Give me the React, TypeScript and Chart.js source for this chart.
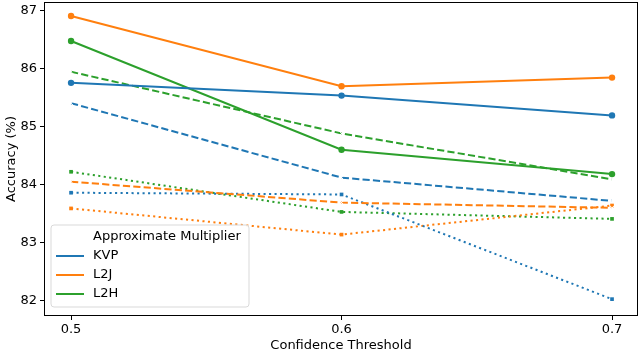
import React, { useEffect, useRef } from "react";
import { Chart, registerables } from "chart.js";

Chart.register(...registerables);

const thresholds = [0.5, 0.6, 0.7];
const yTicks = [82, 83, 84, 85, 86, 87];
const xTicks = [0.5, 0.6, 0.7];

const kvpSolid = [85.75, 85.53, 85.19];
const l2jSolid = [86.9, 85.69, 85.84];
const l2hSolid = [86.47, 84.6, 84.18];

const kvpDashed = [85.4, 84.12, 83.72];
const l2jDashed = [84.05, 83.69, 83.6];
const l2hDashed = [85.94, 84.88, 84.09];

const kvpDotted = [83.86, 83.83, 82.03];
const l2jDotted = [83.59, 83.14, 83.64];
const l2hDotted = [84.22, 83.53, 83.41];

const legendTitle = "Approximate Multiplier";
const legendNames = ["KVP", "L2J", "L2H"];
const colors = ["#1f77b4", "#ff7f0e", "#2ca02c"];

const FONT = "'DejaVu Sans', sans-serif";
const FS = 13;

function pts(vals: number[]) {
  return vals.map((v, i) => ({ x: thresholds[i], y: v }));
}

const DASHED = [7.2, 3.2];
const DOTTED = [2.1, 3.4];

function makeDataset(vals: number[], color: string, style: "solid" | "dashed" | "dotted") {
  return {
    data: pts(vals),
    borderColor: color,
    backgroundColor: color,
    borderWidth: 2,
    borderDash: style === "solid" ? [] : style === "dashed" ? DASHED : DOTTED,
    pointStyle: style === "solid" ? "circle" : style === "dashed" ? "crossRot" : "rect",
    pointRadius: style === "solid" ? 3.2 : style === "dashed" ? 3 : 2.6,
    pointBorderWidth: style === "dashed" ? 1 : 0,
    pointBorderColor: style === "dashed" ? "#ffffff" : color,
    pointBackgroundColor: color,
    tension: 0,
    fill: false,
  };
}

const framePlugin = {
  id: "frame",
  afterDraw(chart: any) {
    const { ctx, chartArea } = chart;
    ctx.save();
    ctx.strokeStyle = "#000";
    ctx.lineWidth = 1;
    ctx.strokeRect(
      Math.round(chartArea.left) + 0.5,
      Math.round(chartArea.top) + 0.5,
      Math.round(chartArea.right - chartArea.left) - 1,
      Math.round(chartArea.bottom - chartArea.top) - 1
    );
    // legend
    const lx = 51, ly = 225, lw = 198, lh = 82;
    ctx.beginPath();
    const r = 3;
    ctx.moveTo(lx + r, ly);
    ctx.lineTo(lx + lw - r, ly);
    ctx.quadraticCurveTo(lx + lw, ly, lx + lw, ly + r);
    ctx.lineTo(lx + lw, ly + lh - r);
    ctx.quadraticCurveTo(lx + lw, ly + lh, lx + lw - r, ly + lh);
    ctx.lineTo(lx + r, ly + lh);
    ctx.quadraticCurveTo(lx, ly + lh, lx, ly + lh - r);
    ctx.lineTo(lx, ly + r);
    ctx.quadraticCurveTo(lx, ly, lx + r, ly);
    ctx.closePath();
    ctx.fillStyle = "rgba(255,255,255,0.8)";
    ctx.fill();
    ctx.strokeStyle = "#d9d9d9";
    ctx.lineWidth = 1;
    ctx.stroke();
    ctx.fillStyle = "#000";
    ctx.font = `${FS}px ${FONT}`;
    ctx.textBaseline = "middle";
    ctx.textAlign = "left";
    ctx.fillText(legendTitle, 93, 237);
    const rows = [256, 275, 294];
    legendNames.forEach((name, i) => {
      ctx.strokeStyle = colors[i];
      ctx.lineWidth = 2;
      ctx.setLineDash([]);
      ctx.beginPath();
      ctx.moveTo(56, rows[i]);
      ctx.lineTo(84, rows[i]);
      ctx.stroke();
      ctx.fillStyle = "#000";
      ctx.fillText(name, 93, rows[i]);
    });
    ctx.restore();
  },
};

export default function App() {
  const ref = useRef<HTMLCanvasElement | null>(null);
  useEffect(() => {
    document.body.style.margin = "0";
    const canvas = ref.current!;
    const chart = new Chart(canvas, {
      type: "line",
      data: {
        datasets: [
          makeDataset(kvpSolid, colors[0], "solid"),
          makeDataset(l2jSolid, colors[1], "solid"),
          makeDataset(l2hSolid, colors[2], "solid"),
          makeDataset(kvpDashed, colors[0], "dashed"),
          makeDataset(l2jDashed, colors[1], "dashed"),
          makeDataset(l2hDashed, colors[2], "dashed"),
          makeDataset(kvpDotted, colors[0], "dotted"),
          makeDataset(l2jDotted, colors[1], "dotted"),
          makeDataset(l2hDotted, colors[2], "dotted"),
        ] as any,
      },
      options: {
        responsive: false,
        animation: false,
        layout: { autoPadding: false, padding: { top: 2, right: 2, left: 0, bottom: 0 } },
        plugins: {
          legend: { display: false },
          tooltip: { enabled: false },
        },
        scales: {
          x: {
            type: "linear",
            min: 0.49,
            max: 0.7096,
            afterBuildTicks(scale: any) {
              scale.ticks = xTicks.map((v) => ({ value: v }));
            },
            afterFit(scale: any) {
              scale.height = 37;
              scale.paddingLeft = 0;
              scale.paddingRight = 0;
            },
            grid: {
              display: true,
              drawOnChartArea: false,
              drawTicks: true,
              tickLength: 4,
              color: "#000",
            },
            border: { display: false },
            ticks: {
              color: "#000",
              font: { family: FONT, size: FS },
              padding: 2,
              callback: (v: any) => Number(v).toFixed(1),
            },
            title: {
              display: true,
              text: "Confidence Threshold",
              color: "#000",
              font: { family: FONT, size: FS },
              padding: { top: 1, bottom: 0 },
            },
          },
          y: {
            type: "linear",
            min: 81.74,
            max: 87.14,
            afterBuildTicks(scale: any) {
              scale.ticks = yTicks.map((v) => ({ value: v }));
            },
            afterFit(scale: any) {
              scale.width = 44;
              scale.paddingTop = 0;
              scale.paddingBottom = 0;
            },
            grid: {
              display: true,
              drawOnChartArea: false,
              drawTicks: true,
              tickLength: 4,
              color: "#000",
            },
            border: { display: false },
            ticks: {
              color: "#000",
              font: { family: FONT, size: FS },
              padding: 3,
              callback: (v: any) => String(v),
            },
            title: {
              display: true,
              text: "Accuracy (%)",
              color: "#000",
              font: { family: FONT, size: FS },
              padding: { top: 4, bottom: 0 },
            },
          },
        },
      },
      plugins: [framePlugin],
    });
    return () => chart.destroy();
  }, []);
  return <canvas ref={ref} width={640} height={353} style={{ display: "block" }} />;
}
